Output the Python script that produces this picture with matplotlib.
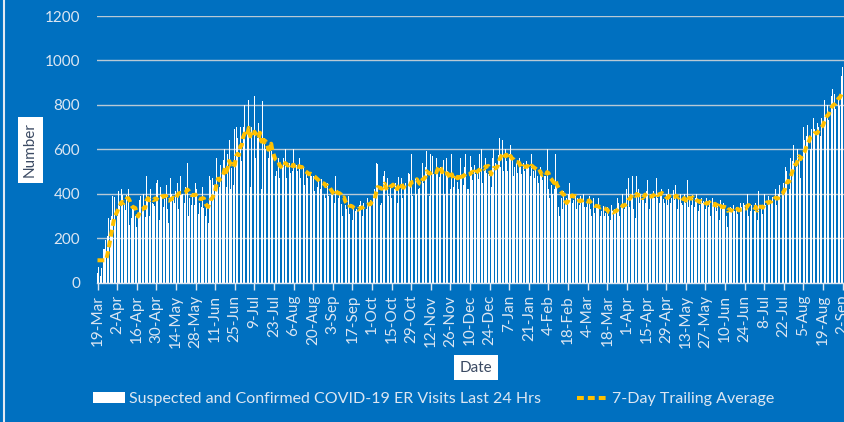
import numpy as np
import pandas as pd
import matplotlib
matplotlib.use("Agg")
import matplotlib.pyplot as plt
import matplotlib.dates as mdates
from matplotlib.patches import Patch
from matplotlib.lines import Line2D

# daily suspected + confirmed COVID-19 ER visits, starting 19-Mar-2020 (one row per week)
start_date = "2020-03-19"
er_visits = [
    45, 70, 30, 65, 150, 150, 190,
    210, 290, 280, 300, 390, 385, 280,
    300, 410, 345, 420, 395, 360, 325,
    395, 420, 260, 290, 330, 350, 300,
    250, 300, 370, 390, 340, 400, 295,
    480, 385, 300, 420, 360, 355, 346,
    450, 460, 280, 430, 395, 340, 375,
    440, 330, 270, 470, 400, 390, 360,
    410, 450, 330, 480, 395, 400, 356,
    430, 540, 300, 380, 350, 401, 350,
    450, 420, 310, 360, 340, 430, 336,
    300, 345, 270, 480, 460, 470, 440,
    420, 560, 440, 430, 530, 500, 550,
    600, 430, 580, 640, 420, 516, 440,
    690, 700, 650, 600, 700, 545, 700,
    800, 620, 690, 820, 430, 700, 651,
    840, 560, 650, 720, 600, 420, 816,
    650, 600, 540, 560, 620, 590, 570,
    520, 480, 500, 560, 470, 550, 525,
    560, 600, 470, 510, 540, 495, 500,
    600, 480, 530, 500, 560, 470, 500,
    520, 440, 500, 470, 510, 490, 479,
    480, 410, 460, 430, 470, 420, 466,
    470, 400, 380, 450, 390, 420, 395,
    400, 360, 480, 390, 380, 400, 355,
    300, 380, 350, 330, 390, 310, 355,
    280, 340, 320, 330, 360, 350, 365,
    300, 360, 370, 330, 380, 361, 370,
    380, 400, 420, 540, 535, 350, 350,
    360, 480, 500, 400, 470, 390, 424,
    380, 520, 420, 450, 360, 475, 440,
    470, 380, 420, 450, 340, 495, 490,
    580, 390, 430, 470, 400, 420, 425,
    560, 540, 450, 520, 590, 380, 390,
    580, 570, 490, 500, 560, 500, 475,
    520, 430, 550, 400, 560, 500, 400,
    420, 580, 430, 480, 520, 454, 420,
    560, 470, 440, 520, 580, 420, 419,
    570, 520, 460, 530, 490, 500, 465,
    580, 600, 450, 500, 560, 495, 490,
    480, 430, 560, 600, 540, 520, 573,
    650, 520, 640, 500, 600, 545, 500,
    580, 620, 560, 480, 520, 540, 494,
    560, 520, 490, 540, 500, 545, 520,
    520, 480, 580, 500, 470, 512, 480,
    450, 520, 490, 460, 480, 479, 600,
    420, 380, 440, 400, 420, 580, 440,
    340, 300, 380, 330, 410, 366, 380,
    400, 450, 380, 360, 370, 391, 330,
    380, 350, 390, 370, 400, 339, 340,
    360, 390, 330, 300, 380, 315, 340,
    350, 380, 300, 320, 345, 300, 315,
    340, 300, 280, 350, 320, 330, 320,
    380, 360, 300, 340, 400, 330, 340,
    420, 470, 340, 400, 480, 330, 290,
    480, 420, 360, 400, 380, 372, 360,
    410, 460, 330, 400, 380, 412, 380,
    470, 380, 360, 400, 420, 375, 360,
    400, 350, 420, 360, 380, 415, 370,
    440, 330, 380, 400, 360, 350, 400,
    360, 460, 340, 380, 350, 395, 340,
    380, 400, 320, 350, 380, 360, 365,
    330, 380, 340, 370, 300, 380, 350,
    360, 320, 350, 280, 370, 347, 360,
    350, 300, 250, 330, 340, 334, 350,
    320, 340, 310, 280, 360, 340, 360,
    350, 330, 400, 300, 320, 347, 340,
    320, 360, 280, 410, 330, 349, 310,
    400, 350, 380, 390, 360, 360, 385,
    380, 420, 350, 400, 440, 400, 410,
    450, 520, 500, 480, 420, 560, 549,
    620, 580, 520, 600, 550, 470, 650,
    700, 640, 660, 710, 620, 600, 690,
    740, 690, 650, 720, 700, 660, 740,
    790, 820, 750, 800, 730, 772, 840,
    870, 850, 780, 860, 830, 795, 930,
    970,
]
y_ticks = [0, 200, 400, 600, 800, 1000, 1200]
tick_step_days = 14

bg = "#0070C0"
light = "#DCE6F2"
yellow = "#FFC000"
dark_txt = "#3B4A63"
plt.rcParams["font.family"] = ["Lato", "DejaVu Sans"]

dates = pd.date_range(start_date, periods=len(er_visits), freq="D")
visits = pd.Series(er_visits, index=dates)
# 7-day trailing average (first incomplete week held at the first full average)
trailing = visits.rolling(7).mean().bfill()

W, H = 844, 422
fig = plt.figure(figsize=(W / 100, H / 100), dpi=100, facecolor=bg)
ax = fig.add_axes([96.8 / W, 139.5 / H, 1 - 96.8 / W, 266.5 / H])
ax.set_facecolor(bg)

dash = (0, (1.7, 1.0))
ax.bar(dates, visits.values, width=0.65, color="white", linewidth=0, zorder=2)
ax.plot(dates, trailing.values, color=yellow, lw=2.9, linestyle=dash, zorder=3)

d0 = mdates.date2num(dates[0])
ax.set_xlim(d0 - 0.5, d0 + 533.0)
ax.set_ylim(0, 1200)

ax.set_yticks(y_ticks)
ax.yaxis.grid(True, color="#D9D9D9", lw=1, alpha=0.85, zorder=1)
ax.set_axisbelow(True)
ax.tick_params(axis="y", length=0, pad=12, labelsize=11, labelcolor=light)

tick_dates = dates[::tick_step_days]
ax.set_xticks(mdates.date2num(tick_dates))
ax.set_xticklabels([f"{d.day}-{d.strftime('%b')}" for d in tick_dates], rotation=90)
ax.tick_params(axis="x", length=5, width=1, color=light, pad=4,
               labelsize=11, labelcolor=light)

for s in ["top", "right", "left"]:
    ax.spines[s].set_visible(False)
ax.spines["bottom"].set_color(light)
ax.spines["bottom"].set_linewidth(1)

fig.text(30 / W, 1 - 150 / H, "Number", rotation=90, ha="center", va="center",
         fontsize=11, color=dark_txt,
         bbox=dict(facecolor="white", edgecolor="none", pad=4))
fig.text(476 / W, 1 - 367.5 / H, "Date", ha="center", va="center",
         fontsize=11, color=dark_txt,
         bbox=dict(facecolor="white", edgecolor="none", pad=4))

handles = [Patch(facecolor="white", edgecolor="none"),
           Line2D([], [], color=yellow, lw=2.9, linestyle=dash)]
labels = ["Suspected and Confirmed COVID-19 ER Visits Last 24 Hrs",
          "7-Day Trailing Average"]
leg = fig.legend(handles, labels, loc="center", bbox_to_anchor=(434 / W, 1 - 399 / H),
                 ncol=2, frameon=False, fontsize=11.5, handlelength=2.0,
                 handletextpad=0.2, columnspacing=2.3, labelcolor=light)

fig.add_artist(Line2D([4 / W, 4 / W], [0, 1], transform=fig.transFigure,
                      color="#E3E9F2", lw=1.5))

fig.savefig("out.png", dpi=100, facecolor=bg)
